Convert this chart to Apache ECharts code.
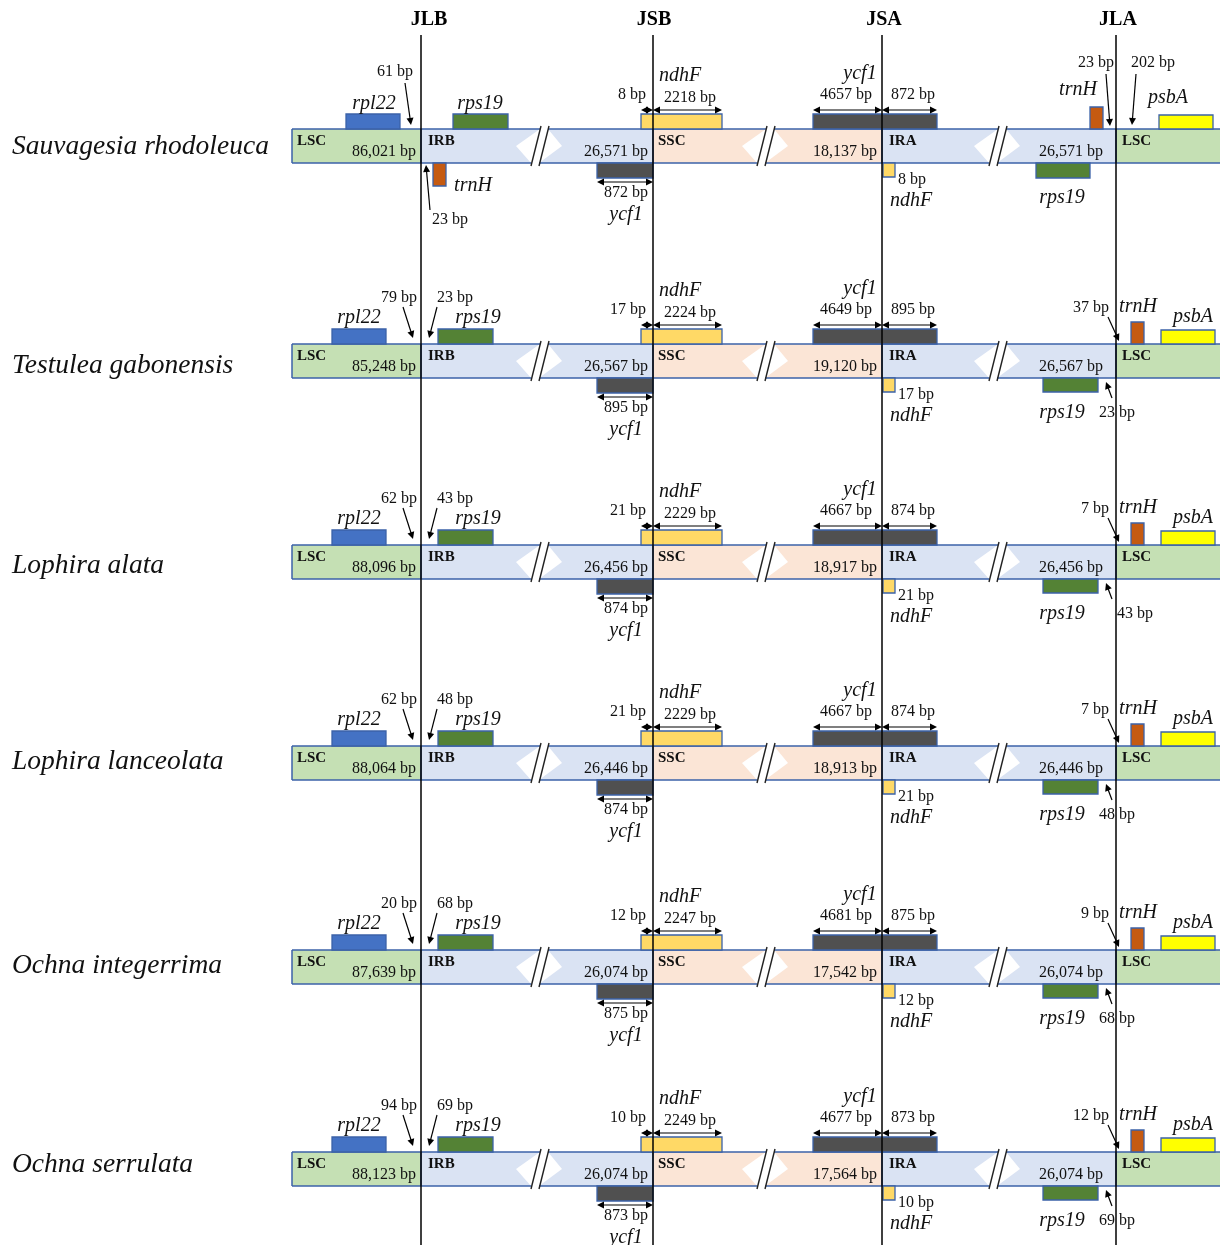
<!DOCTYPE html>
<html>
<head>
<meta charset="utf-8">
<script src="https://cdn.jsdelivr.net/npm/echarts@6/dist/echarts.min.js"></script>
<style>
html, body { margin: 0; padding: 0; background: #fff; }
#chart { width: 1220px; height: 1245px; }
</style>
</head>
<body>
<div id="chart"></div>
<script>
// values (bp)
const species = ['Sauvagesia rhodoleuca', 'Testulea gabonensis', 'Lophira alata', 'Lophira lanceolata', 'Ochna integerrima', 'Ochna serrulata']
const lscLen = [86021, 85248, 88096, 88064, 87639, 88123]
const irLen = [26571, 26567, 26456, 26446, 26074, 26074]
const sscLen = [18137, 19120, 18917, 18913, 17542, 17564]
const rpl22Gap = [61, 79, 62, 62, 20, 94]
const rps19GapJLB = [null, 23, 43, 48, 68, 69]
const trnHGapJLB = [23, null, null, null, null, null]
const ycf1InIRB = [872, 895, 874, 874, 875, 873]
const ndhFInIRB = [8, 17, 21, 21, 12, 10]
const ndhFInSSC = [2218, 2224, 2229, 2229, 2247, 2249]
const ycf1InSSC = [4657, 4649, 4667, 4667, 4681, 4677]
const ycf1InIRA = [872, 895, 874, 874, 875, 873]
const ndhFInIRA = [8, 17, 21, 21, 12, 10]
const trnHGapJLA = [23, 37, 7, 7, 9, 12]
const rps19GapJLA = [null, 23, 43, 48, 68, 69]
const psbAGapJLA = [202, null, null, null, null, null]
const junctions = ['JLB', 'JSB', 'JSA', 'JLA']

// layout (pixels of the 1220x1245 canvas)
const W = 1220, H = 1245
const JX = [421, 653, 882, 1116]
const HEAD_X = [429, 654, 884, 1118]
const ROW_TOP = [129, 344, 545, 746, 950, 1152]
const NAME_Y = [147, 366, 566, 762, 966, 1165]
const RPS19_LABEL_X = [null, 1099, 1117, 1099, 1099, 1099]
const BAR_H = 34
const LEFT = 292
const BRK = [539, 765, 997]

const COL = {
  lsc: '#C5E0B4', ir: '#DAE3F3', ssc: '#FBE5D6', edge: '#3B62A8',
  rpl22: '#4472C4', rps19: '#548235', trnH: '#C55A11', ycf1: '#505050',
  ndhF: '#FFD966', psbA: '#FFFF00', ink: '#111'
}
const SERIF = '"Liberation Serif", "Times New Roman", serif'
const F_NUM = '16px ' + SERIF
const F_GENE = 'italic 20px ' + SERIF
const F_REG = 'bold 15px ' + SERIF

// region lengths carry a thousands comma, gene lengths do not
const fmt = n => n.toLocaleString('en-US') + ' bp'
const bp = n => n + ' bp'

function renderRow(params, api) {
  const i = api.value(0)
  const T = ROW_TOP[i], B = T + BAR_H, M = T + BAR_H / 2
  const kids = []
  const p = (x, y) => api.coord([x, y])

  const poly = (pts, fill) => kids.push({ type: 'polygon', shape: { points: pts.map(q => p(q[0], q[1])) }, style: { fill: fill } })
  const line = (x1, y1, x2, y2, stroke, w) => {
    const a = p(x1, y1), b = p(x2, y2)
    kids.push({ type: 'line', shape: { x1: a[0], y1: a[1], x2: b[0], y2: b[1] }, style: { stroke: stroke, lineWidth: w } })
  }
  const box = (x0, x1, y0, y1, fill) => {
    const a = p(x0, y0), b = p(x1, y1)
    kids.push({ type: 'rect', shape: { x: a[0], y: a[1], width: b[0] - a[0], height: b[1] - a[1] }, style: { fill: fill, stroke: COL.edge, lineWidth: 1.3 } })
  }
  const txt = (s, x, y, font, align) => {
    const a = p(x, y)
    kids.push({ type: 'text', style: { text: s, x: a[0], y: a[1], font: font, fill: COL.ink, align: align || 'center', verticalAlign: 'middle' } })
  }
  const head = (x, y, ux, uy) => {
    const L = 7, hw = 3.5, bx = x - ux * L, by = y - uy * L
    poly([[x, y], [bx - uy * hw, by + ux * hw], [bx + uy * hw, by - ux * hw]], '#000')
  }
  const arrow = (x1, y1, x2, y2, both) => {
    const d = Math.hypot(x2 - x1, y2 - y1), ux = (x2 - x1) / d, uy = (y2 - y1) / d
    line(both ? x1 + ux * 4 : x1, both ? y1 + uy * 4 : y1, x2 - ux * 4, y2 - uy * 4, '#000', 1.2)
    head(x2, y2, ux, uy)
    if (both) head(x1, y1, -ux, -uy)
  }
  // one piece of the bar; a break end gets the notch and a slash
  const seg = (a, b, fill, brkL, brkR) => {
    const tl = brkL ? a + 9 : a, bl = a
    const tr = brkR ? b + 1 : b, br = brkR ? b - 8 : b
    const pts = [[tl, T], [tr, T]]
    if (brkR) pts.push([b - 23, M])
    pts.push([br, B], [bl, B])
    if (brkL) pts.push([a + 23, M])
    poly(pts, fill)
    line(tl, T, tr, T, COL.edge, 1.5)
    line(bl, B, br, B, COL.edge, 1.5)
    if (!brkL) line(a, T, a, B, COL.edge, 1.5)
    if (brkR) line(b + 2, T - 3, b - 8, B + 3, '#222', 1.4)
    if (brkL) line(a + 10, T - 3, a, B + 3, '#222', 1.4)
  }

  // bar
  seg(LEFT, JX[0], COL.lsc, false, false)
  seg(JX[0], BRK[0], COL.ir, false, true)
  seg(BRK[0], JX[1], COL.ir, true, false)
  seg(JX[1], BRK[1], COL.ssc, false, true)
  seg(BRK[1], JX[2], COL.ssc, true, false)
  seg(JX[2], BRK[2], COL.ir, false, true)
  seg(BRK[2], JX[3], COL.ir, true, false)
  seg(JX[3], W + 5, COL.lsc, false, false)

  // region names and lengths
  txt('LSC', 297, T + 12, F_REG, 'left')
  txt(fmt(lscLen[i]), 416, T + 23, F_NUM, 'right')
  txt('IRB', 428, T + 12, F_REG, 'left')
  txt(fmt(irLen[i]), 648, T + 23, F_NUM, 'right')
  txt('SSC', 658, T + 12, F_REG, 'left')
  txt(fmt(sscLen[i]), 877, T + 23, F_NUM, 'right')
  txt('IRA', 889, T + 12, F_REG, 'left')
  txt(fmt(irLen[i]), 1103, T + 23, F_NUM, 'right')
  txt('LSC', 1122, T + 12, F_REG, 'left')

  // species
  txt(species[i], 12, NAME_Y[i], 'italic 27.5px ' + SERIF, 'left')

  // JLB
  if (trnHGapJLB[i] != null) {
    box(346, 400, T - 15, T, COL.rpl22)
    txt('rpl22', 374, T - 25, F_GENE)
    txt(bp(rpl22Gap[i]), 413, T - 57, F_NUM, 'right')
    arrow(405, T - 46, 411, T - 4)
    box(453, 508, T - 15, T, COL.rps19)
    txt('rps19', 480, T - 25, F_GENE)
    box(433, 446, B, B + 23, COL.trnH)
    txt('trnH', 473, B + 23, F_GENE)
    txt(bp(trnHGapJLB[i]), 450, B + 57, F_NUM)
    arrow(430, B + 47, 426, B + 2)
  } else {
    box(332, 386, T - 15, T, COL.rpl22)
    txt('rpl22', 359, T - 26, F_GENE)
    txt(bp(rpl22Gap[i]), 417, T - 46, F_NUM, 'right')
    arrow(403, T - 37, 413, T - 6)
    txt(bp(rps19GapJLB[i]), 437, T - 46, F_NUM, 'left')
    arrow(437, T - 37, 429, T - 6)
    box(438, 493, T - 15, T, COL.rps19)
    txt('rps19', 478, T - 26, F_GENE)
  }

  // JSB
  box(597, JX[1], B, B + 15, COL.ycf1)
  arrow(597, B + 19, JX[1], B + 19, true)
  txt(bp(ycf1InIRB[i]), 626, B + 30, F_NUM)
  txt('ycf1', 626, B + 52, F_GENE)
  box(641, 722, T - 15, T, COL.ndhF)
  arrow(641, T - 19, JX[1], T - 19, true)
  arrow(JX[1], T - 19, 722, T - 19, true)
  txt(bp(ndhFInIRB[i]), 646, T - 34, F_NUM, 'right')
  txt(bp(ndhFInSSC[i]), 690, T - 31, F_NUM)
  txt('ndhF', 680, T - 53, F_GENE)

  // JSA
  box(813, 937, T - 15, T, COL.ycf1)
  arrow(813, T - 19, JX[2], T - 19, true)
  arrow(JX[2], T - 19, 937, T - 19, true)
  txt(bp(ycf1InSSC[i]), 846, T - 34, F_NUM)
  txt(bp(ycf1InIRA[i]), 913, T - 34, F_NUM)
  txt('ycf1', 860, T - 55, F_GENE)
  box(883, 895, B, B + 14, COL.ndhF)
  txt(bp(ndhFInIRA[i]), 898, B + 17, F_NUM, 'left')
  txt('ndhF', 911, B + 38, F_GENE)

  // JLA
  if (psbAGapJLA[i] != null) {
    box(1090, 1103, T - 22, T, COL.trnH)
    txt('trnH', 1078, T - 39, F_GENE)
    txt(bp(trnHGapJLA[i]), 1096, T - 66, F_NUM)
    arrow(1106, T - 55, 1110, T - 3)
    txt(bp(psbAGapJLA[i]), 1153, T - 66, F_NUM)
    arrow(1136, T - 55, 1132, T - 4)
    box(1159, 1213, T - 14, T, COL.psbA)
    txt('psbA', 1168, T - 31, F_GENE)
    box(1036, 1090, B, B + 15, COL.rps19)
    txt('rps19', 1062, B + 35, F_GENE)
  } else {
    txt(bp(trnHGapJLA[i]), 1109, T - 36, F_NUM, 'right')
    arrow(1108, T - 27, 1119, T - 3)
    box(1131, 1144, T - 22, T, COL.trnH)
    txt('trnH', 1138, T - 37, F_GENE)
    box(1161, 1215, T - 14, T, COL.psbA)
    txt('psbA', 1193, T - 27, F_GENE)
    box(1043, 1098, B, B + 14, COL.rps19)
    txt('rps19', 1062, B + 35, F_GENE)
    txt(bp(rps19GapJLA[i]), RPS19_LABEL_X[i], B + 35, F_NUM, 'left')
    arrow(1112, B + 20, 1106, B + 4)
  }

  return { type: 'group', children: kids }
}

function renderJunction(params, api) {
  const k = api.value(0)
  const top = api.coord([JX[k], 35]), bot = api.coord([JX[k], H])
  const h = api.coord([HEAD_X[k], 20])
  return {
    type: 'group',
    children: [
      { type: 'line', shape: { x1: top[0], y1: top[1], x2: bot[0], y2: bot[1] }, style: { stroke: '#000', lineWidth: 1.5 } },
      { type: 'text', style: { text: junctions[k], x: h[0], y: h[1], font: 'bold 20px ' + SERIF, fill: '#000', align: 'center', verticalAlign: 'middle' } }
    ]
  }
}

const chart = echarts.init(document.getElementById('chart'))
chart.setOption({
  animation: false,
  backgroundColor: '#fff',
  grid: { left: 0, right: 0, top: 0, bottom: 0 },
  xAxis: { type: 'value', min: 0, max: W, show: false },
  yAxis: { type: 'value', min: 0, max: H, inverse: true, show: false },
  series: [
    {
      type: 'custom',
      renderItem: renderRow,
      data: species.map((s, i) => [i, i]),
      z: 2
    },
    {
      type: 'custom',
      renderItem: renderJunction,
      data: junctions.map((j, k) => [k, k]),
      z: 3
    }
  ]
})
</script>
</body>
</html>
